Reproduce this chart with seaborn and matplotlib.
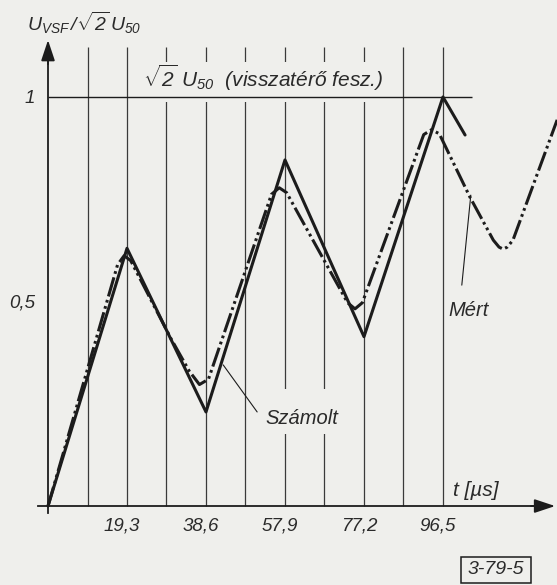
import matplotlib
matplotlib.use("Agg")
import matplotlib.pyplot as plt
from matplotlib.patches import Rectangle
from matplotlib.transforms import ScaledTranslation
import seaborn as sns
import pandas as pd

# ---------------- data ----------------
# calculated curve ("Számolt")
calc_t = [0.0, 19.3, 38.6, 57.9, 77.2, 96.5, 101.9]
calc_v = [0.0, 0.63, 0.23, 0.846, 0.414, 1.0, 0.907]

# measured curve ("Mért")
meas_t = [0.0, 17.0, 18.6, 20.2, 30.0, 34.5, 37.0, 39.2, 54.6, 56.5, 58.3,
          73.2, 75.0, 76.8, 91.8, 93.7, 95.6, 103.1, 108.8, 110.2, 111.2, 112.2, 113.6, 124.4]
meas_v = [0.0, 0.59, 0.612, 0.60, 0.41, 0.33, 0.297, 0.31, 0.762, 0.778, 0.766,
          0.497, 0.482, 0.497, 0.908, 0.92, 0.91, 0.755, 0.650, 0.633, 0.628, 0.633, 0.650, 0.944]

grid_t = [9.65 * k for k in range(1, 11)]
xtick_vals = [19.3, 38.6, 57.9, 77.2, 96.5]
xtick_labels = ["19,3", "38,6", "57,9", "77,2", "96,5"]
ytick_vals = [0.5, 1.0]
ytick_labels = ["0,5", "1"]

calc_df = pd.DataFrame({"t": calc_t, "v": calc_v})
meas_df = pd.DataFrame({"t": meas_t, "v": meas_v})

# ---------------- style ----------------
BG = "#efefec"
INK = "#1c1c1c"
GRID = "#3a3a3a"

sns.set_theme(style="white")
plt.rcParams["font.family"] = ["Liberation Sans", "DejaVu Sans"]
plt.rcParams["font.style"] = "italic"
plt.rcParams["mathtext.fontset"] = "custom"
plt.rcParams["mathtext.it"] = "Liberation Sans:italic"
plt.rcParams["mathtext.rm"] = "Liberation Sans:italic"
plt.rcParams["mathtext.sf"] = "Liberation Sans:italic"

fig = plt.figure(figsize=(5.57, 5.85), dpi=100, facecolor=BG)
ax = fig.add_axes([0, 0, 1, 1])
ax.set_facecolor(BG)
ax.set_xlim(-11.73, 124.36)
ax.set_ylim(-0.193, 1.237)

# grid lines
ax.vlines(grid_t, 0, 1.122, color=GRID, lw=0.9, zorder=1)

# masks behind texts (the drawing has gaps in the grid lines there)
ax.add_patch(Rectangle((24.0, 0.988), 57.0, 0.098, facecolor=BG, edgecolor="none", zorder=2))
ax.add_patch(Rectangle((52.5, 0.175), 18.5, 0.11, facecolor=BG, edgecolor="none", zorder=2))

# reference level line
ax.hlines(1.0, 0, 103.6, color=INK, lw=1.0, zorder=3)

# curves
sns.lineplot(data=calc_df, x="t", y="v", ax=ax, color=INK, lw=2.2,
             estimator=None, sort=False, zorder=5)
sns.lineplot(data=meas_df, x="t", y="v", ax=ax, color=INK, lw=2.2,
             linestyle=(0, (6.5, 1.2, 0.9, 1.2, 0.9, 1.2)),
             estimator=None, sort=False, zorder=4)

# axes
for s in ["top", "right"]:
    ax.spines[s].set_visible(False)
ax.spines["bottom"].set_position(("data", 0))
ax.spines["left"].set_position(("data", 0))
ax.spines["bottom"].set_bounds(-2.5, 121)
ax.spines["left"].set_bounds(-0.018, 1.10)
for s in ["bottom", "left"]:
    ax.spines[s].set_color(INK)
    ax.spines[s].set_linewidth(1.3)
    ax.spines[s].set_zorder(6)

ax.annotate("", xy=(123.9, 0), xytext=(118, 0),
            arrowprops=dict(arrowstyle="-|>,head_length=0.9,head_width=0.3",
                            mutation_scale=14, color=INK, lw=1.3, shrinkA=0, shrinkB=0))
ax.annotate("", xy=(0, 1.139), xytext=(0, 1.08),
            arrowprops=dict(arrowstyle="-|>,head_length=0.9,head_width=0.3",
                            mutation_scale=14, color=INK, lw=1.3, shrinkA=0, shrinkB=0))

ax.set_xticks(xtick_vals)
ax.set_xticklabels(xtick_labels)
ax.set_yticks(ytick_vals)
ax.set_yticklabels(ytick_labels)
ax.tick_params(axis="both", direction="out", length=3.5, width=1.0, color=INK,
               labelcolor="#2a2a2a", labelsize=13.5, pad=4.5)
ax.tick_params(axis="y", pad=6)
ax.set_xlabel("")
ax.set_ylabel("")
for lab in ax.get_xticklabels():
    lab.set_fontstyle("italic")
    lab.set_transform(lab.get_transform() + ScaledTranslation(-0.05, 0, fig.dpi_scale_trans))
for lab in ax.get_yticklabels():
    lab.set_fontstyle("italic")

TXT = dict(color="#2a2a2a", fontstyle="italic")

# axis titles
ax.text(-5.13, 1.181, r"$U_{VSF}\,/\sqrt{2}\,U_{50}$", fontsize=14, ha="left", va="center", **TXT)
ax.text(104.6, 0.039, "t [µs]", fontsize=15, ha="center", va="center", **TXT)

# reference level text
ax.text(23.2, 1.046, r"$\sqrt{2}\ U_{50}$  (visszatérő fesz.)", fontsize=15,
        ha="left", va="center", zorder=3, **TXT)

# curve labels with leaders
ax.text(53.0, 0.215, "Számolt", fontsize=14.5, ha="left", va="center", **TXT)
ax.plot([51.1, 42.8], [0.23, 0.345], color=INK, lw=0.8, zorder=6)
ax.text(97.7, 0.479, "Mért", fontsize=14.5, ha="left", va="center", **TXT)
ax.plot([101.1, 103.3], [0.54, 0.76], color=INK, lw=0.8, zorder=6)

# figure code box
ax.add_patch(Rectangle((100.9, -0.188), 17.1, 0.063, facecolor="none",
                       edgecolor=INK, lw=1.1, zorder=6))
ax.text(109.5, -0.156, "3-79-5", fontsize=14, ha="center", va="center", **TXT)

fig.savefig("out.png", dpi=100, facecolor=BG)
